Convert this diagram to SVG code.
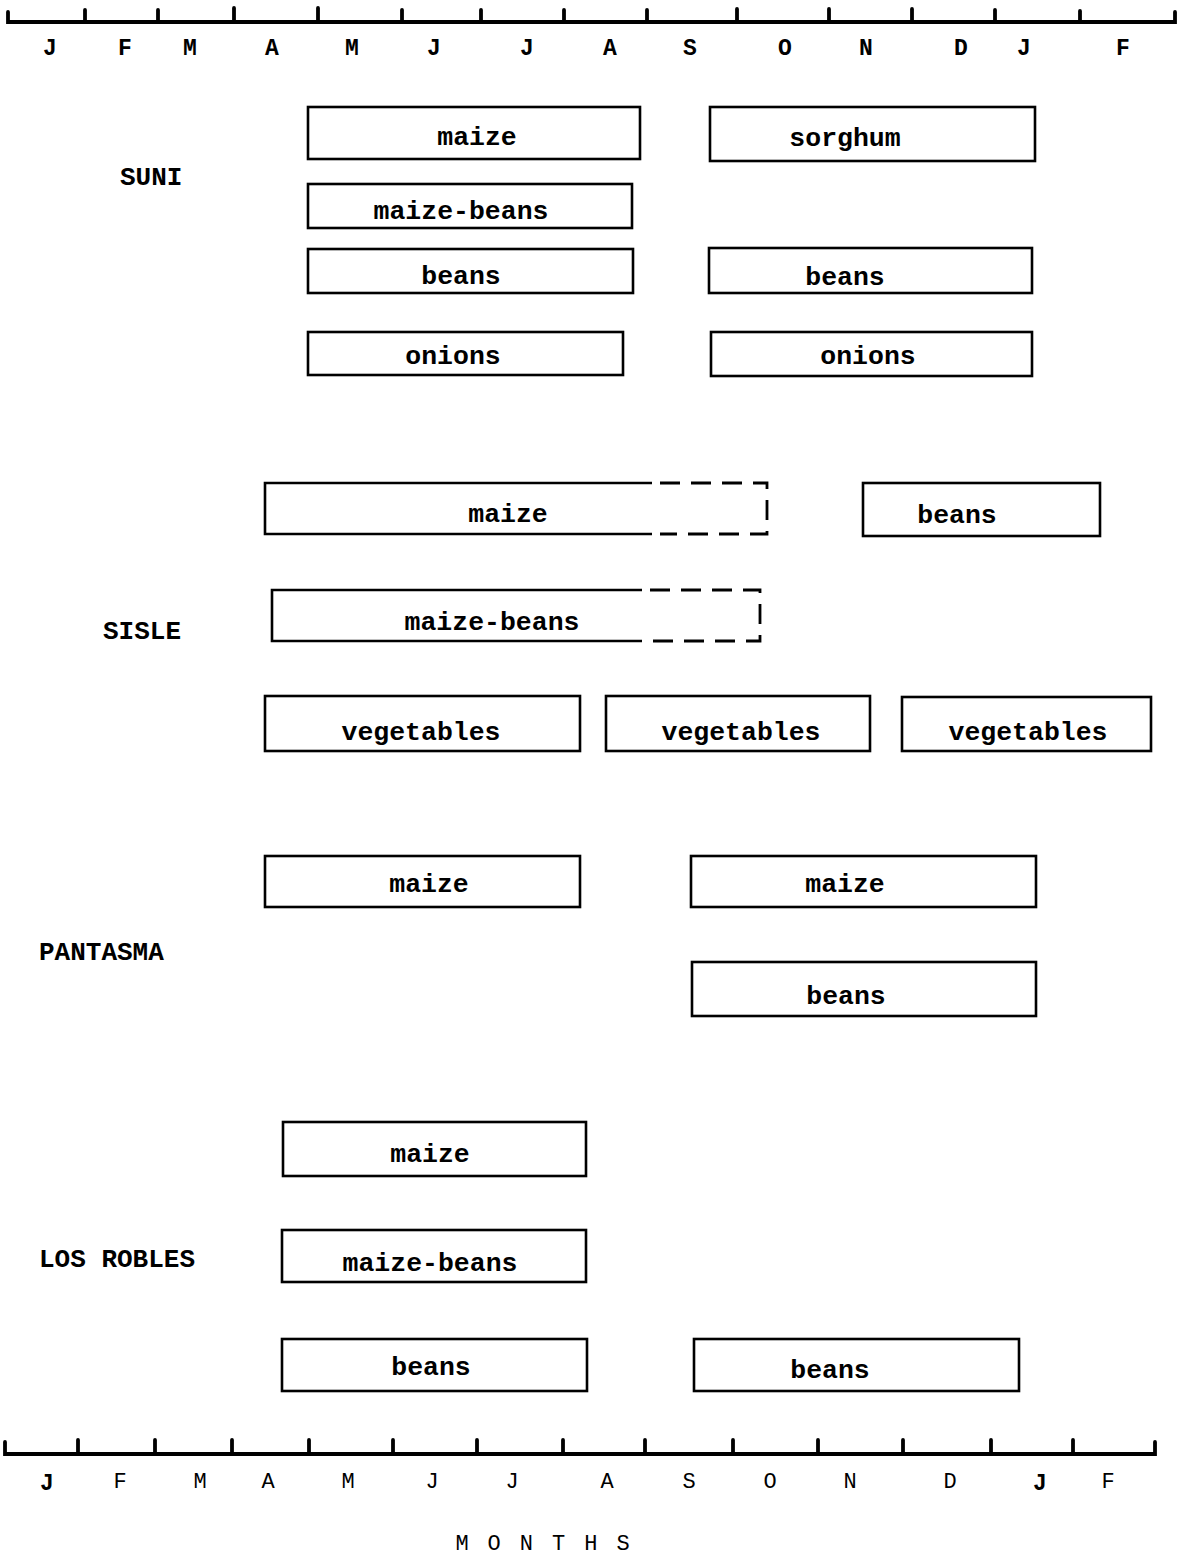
<svg xmlns="http://www.w3.org/2000/svg" width="1186" height="1554" viewBox="0 0 1186 1554">
<style>
.bx{fill:none;stroke:#000;stroke-width:2.6}
.ds{fill:none;stroke:#000;stroke-width:2.8;stroke-dasharray:20 11}
.ax{fill:none;stroke:#000;stroke-width:3.8;stroke-linecap:round}
.t{font-family:"Liberation Mono","DejaVu Sans Mono",monospace;font-size:26.5px;font-weight:bold;text-anchor:middle;fill:#000}
.lb{font-family:"Liberation Mono","DejaVu Sans Mono",monospace;font-size:26px;font-weight:bold;fill:#000}
.m{font-family:"Liberation Mono","DejaVu Sans Mono",monospace;font-size:23px;font-weight:bold;text-anchor:middle;fill:#000}
.mb{font-family:"Liberation Mono","DejaVu Sans Mono",monospace;font-size:22px;text-anchor:middle;fill:#000}
</style>
<rect width="1186" height="1554" fill="#fff"/>
<g id="axis-top">
<path class="ax" d="M8,12 V22 H1175 V12 M85,22 V10 M158,22 V10 M234,22 V8 M318,22 V8 M402,22 V10 M481,22 V10 M564,22 V10 M647,22 V10 M737,22 V9 M829,22 V9 M912,22 V9 M995,22 V10 M1080,22 V11"/>
<text class="m" x="50" y="55">J</text><text class="m" x="125" y="55">F</text><text class="m" x="190" y="55">M</text><text class="m" x="272" y="55">A</text><text class="m" x="352" y="55">M</text><text class="m" x="434" y="55">J</text><text class="m" x="527" y="55">J</text><text class="m" x="610" y="55">A</text><text class="m" x="690" y="55">S</text><text class="m" x="785" y="55">O</text><text class="m" x="866" y="55">N</text><text class="m" x="961" y="55">D</text><text class="m" x="1024" y="55">J</text><text class="m" x="1123" y="55">F</text>
</g>
<g id="axis-bottom">
<path class="ax" d="M5,1442 V1454 H1155 V1442 M78,1454 V1440 M155,1454 V1440 M232,1454 V1440 M309,1454 V1440 M393,1454 V1440 M477,1454 V1440 M563,1454 V1440 M645,1454 V1440 M733,1454 V1440 M818,1454 V1440 M903,1454 V1440 M991,1454 V1440 M1073,1454 V1440"/>
<text class="m" x="47" y="1490">J</text><text class="mb" x="120" y="1488">F</text><text class="mb" x="200" y="1488">M</text><text class="mb" x="268" y="1488">A</text><text class="mb" x="348" y="1488">M</text><text class="mb" x="432" y="1488">J</text><text class="mb" x="512" y="1488">J</text><text class="mb" x="607" y="1488">A</text><text class="mb" x="689" y="1488">S</text><text class="mb" x="770" y="1488">O</text><text class="mb" x="850" y="1488">N</text><text class="mb" x="950" y="1488">D</text><text class="m" x="1040" y="1490">J</text><text class="mb" x="1108" y="1488">F</text>
<text class="mb" x="552" y="1550" letter-spacing="19">MONTHS</text>
</g>
<g id="labels">
<text class="lb" x="120" y="185">SUNI</text>
<text class="lb" x="103" y="639">SISLE</text>
<text class="lb" x="39" y="960">PANTASMA</text>
<text class="lb" x="39" y="1267">LOS ROBLES</text>
</g>
<g id="suni-maize"><rect class="bx" x="308" y="107" width="332" height="52"/><text class="t" x="477" y="145">maize</text></g>
<g id="suni-sorghum"><rect class="bx" x="710" y="107" width="325" height="54"/><text class="t" x="845" y="146">sorghum</text></g>
<g id="suni-maize-beans"><rect class="bx" x="308" y="184" width="324" height="44"/><text class="t" x="461" y="219">maize-beans</text></g>
<g id="suni-beans-1"><rect class="bx" x="308" y="249" width="325" height="44"/><text class="t" x="461" y="284">beans</text></g>
<g id="suni-beans-2"><rect class="bx" x="709" y="248" width="323" height="45"/><text class="t" x="845" y="285">beans</text></g>
<g id="suni-onions-1"><rect class="bx" x="308" y="332" width="315" height="43"/><text class="t" x="453" y="364">onions</text></g>
<g id="suni-onions-2"><rect class="bx" x="711" y="332" width="321" height="44"/><text class="t" x="868" y="364">onions</text></g>
<g id="sisle-maize"><path class="bx" d="M652,483 H265 V534 H652"/><path class="ds" d="M660,483 H767 V534 H660"/><text class="t" x="508" y="522">maize</text></g>
<g id="sisle-beans"><rect class="bx" x="863" y="483" width="237" height="53"/><text class="t" x="957" y="523">beans</text></g>
<g id="sisle-maize-beans"><path class="bx" d="M642,590 H272 V641 H642"/><path class="ds" d="M650,590 H760 V641 H650"/><text class="t" x="492" y="630">maize-beans</text></g>
<g id="sisle-veg-1"><rect class="bx" x="265" y="696" width="315" height="55"/><text class="t" x="421" y="740">vegetables</text></g>
<g id="sisle-veg-2"><rect class="bx" x="606" y="696" width="264" height="55"/><text class="t" x="741" y="740">vegetables</text></g>
<g id="sisle-veg-3"><rect class="bx" x="902" y="697" width="249" height="54"/><text class="t" x="1028" y="740">vegetables</text></g>
<g id="pantasma-maize-1"><rect class="bx" x="265" y="856" width="315" height="51"/><text class="t" x="429" y="892">maize</text></g>
<g id="pantasma-maize-2"><rect class="bx" x="691" y="856" width="345" height="51"/><text class="t" x="845" y="892">maize</text></g>
<g id="pantasma-beans"><rect class="bx" x="692" y="962" width="344" height="54"/><text class="t" x="846" y="1004">beans</text></g>
<g id="robles-maize"><rect class="bx" x="283" y="1122" width="303" height="54"/><text class="t" x="430" y="1162">maize</text></g>
<g id="robles-maize-beans"><rect class="bx" x="282" y="1230" width="304" height="52"/><text class="t" x="430" y="1271">maize-beans</text></g>
<g id="robles-beans-1"><rect class="bx" x="282" y="1339" width="305" height="52"/><text class="t" x="431" y="1375">beans</text></g>
<g id="robles-beans-2"><rect class="bx" x="694" y="1339" width="325" height="52"/><text class="t" x="830" y="1378">beans</text></g>
<g id="connectors"/>
</svg>
